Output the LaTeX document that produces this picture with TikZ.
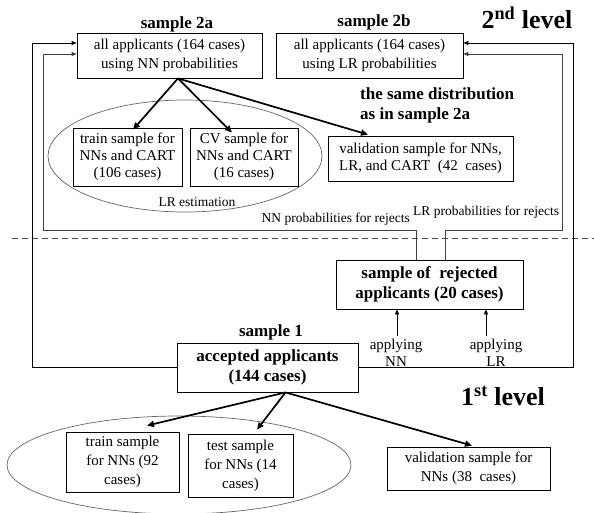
\documentclass[tikz,border=0pt]{standalone}
\usepackage{fontspec}
\setmainfont{Liberation Serif}
\usetikzlibrary{arrows.meta,calc}
\newcommand\fsNorm{\fontsize{15}{17}\selectfont}
\newcommand\fsWide{\fontsize{15}{19}\selectfont}
\newcommand\fsLab{\fontsize{13.5}{15}\selectfont}
\newcommand\fsBold{\fontsize{17}{20}\selectfont\bfseries}
\newcommand\fsHuge{\fontsize{26}{28}\selectfont\bfseries}
\begin{document}
\begin{tikzpicture}[x=1pt,y=-1pt,
  box/.style={draw=black, line width=0.8pt, inner sep=0pt, align=center, font=\fsNorm},
  bbox/.style={box, font=\fsBold, fontsize=16.5},
  plain/.style={inner sep=0pt, align=center, font=\fsNorm},
  lbl/.style={inner sep=0pt, font=\fsLab},
  ttl/.style={inner sep=0pt, font=\fsBold},
  bigarrow/.style={line width=1.7pt, -{Triangle[length=7pt,width=6pt]}},
  smallarrow/.style={line width=0.8pt, -{Triangle[length=5pt,width=4pt]}},
  loopline/.style={line width=0.8pt, draw=black!75, -{Triangle[length=5pt,width=4pt]}},
  oval/.style={draw=black!60, line width=0.7pt},
  fontsize/.style={}]
\useasboundingbox (0,0) rectangle (594,512);

% ellipses
\draw[oval] (185,156) ellipse [x radius=137pt, y radius=56pt];
\draw[oval] (179,465) ellipse [x radius=172pt, y radius=49pt];

% dashed separator
\draw[black!70, line width=0.8pt, dash pattern=on 6pt off 4pt] (12,238) -- (594,238);

% titles
\node[ttl] (t2a) at (177,24) {sample 2a};
\node[ttl] (t2b) at (374,22) {sample 2b};
\node[ttl] (t1) at (271,332) {sample 1};
\node[inner sep=0pt, font=\fsHuge] (lev2) at (527,18) {2\textsuperscript{nd} level};
\node[inner sep=0pt, font=\fsHuge] (lev1) at (503,396) {1\textsuperscript{st} level};
\node[inner sep=0pt, font=\fsBold, align=left, anchor=west] (same) at (360,105)
  {the same distribution\\as in sample 2a};

% second level boxes
\node[box, font=\fsWide, minimum width=185pt, minimum height=45pt] (box2a) at (169.5,55.5)
  {all applicants (164 cases)\\using NN probabilities};
\node[box, font=\fsWide, minimum width=187pt, minimum height=45pt] (box2b) at (369.5,55.5)
  {all applicants (164 cases)\\using LR probabilities};
\node[box, minimum width=109pt, minimum height=58pt] (train2) at (127.5,157)
  {train sample for\\NNs and CART\\(106 cases)};
\node[box, minimum width=108pt, minimum height=58pt] (cv2) at (244,157)
  {CV sample for\\NNs and CART\\(16 cases)};
\node[box, minimum width=185pt, minimum height=45pt] (val2) at (420.5,158.5)
  {validation sample for NNs,\\LR, and CART\ \ (42\ \ cases)};
\node[lbl] (lrest) at (197,202) {LR estimation};

% rejected / accepted
\node[box, font=\fsBold, minimum width=187pt, minimum height=49pt] (rej) at (429.5,284.5)
  {sample of\ \ rejected\\applicants (20 cases)};
\node[box, font=\fsBold, minimum width=181pt, minimum height=49pt] (acc) at (267.5,367.5)
  {accepted applicants\\(144 cases)};
\node[plain] (apNN) at (396,353) {applying\\NN};
\node[plain] (apLR) at (496,353) {applying\\LR};

% first level boxes
\node[box, font=\fsWide, minimum width=113pt, minimum height=60pt] (train1) at (122.5,462)
  {train sample\\for NNs (92\\cases)};
\node[box, font=\fsWide, minimum width=105pt, minimum height=63pt] (test1) at (240.5,465.5)
  {test sample\\for NNs (14\\cases)};
\node[box, font=\fsWide, minimum width=163pt, minimum height=43pt] (val1) at (468.5,468.5)
  {validation sample for\\NNs (38\ \ cases)};

% probability labels
\node[lbl, anchor=east] (nnlab) at (410,219) {NN probabilities for rejects};
\node[lbl, anchor=west] (lrlab) at (413,212) {LR probabilities for rejects};

% split arrows, second level
\coordinate (s2) at ([xshift=8.5pt]box2a.south);
\draw[bigarrow] (s2) -- ([xshift=5.5pt,yshift=-2pt]train2.north);
\draw[bigarrow] (s2) -- ([xshift=-12pt,yshift=-5pt]cv2.north);
\draw[bigarrow] (s2) -- ([xshift=-52.5pt,yshift=1pt]val2.north);

% split arrows, first level
\coordinate (s1) at ([xshift=18pt]acc.south);
\draw[bigarrow] (s1) -- ([xshift=24.5pt,yshift=6pt]train1.north);
\draw[bigarrow] (s1) -- ([xshift=16.5pt,yshift=4pt]test1.north);
\draw[bigarrow] (s1) -- ([xshift=3.5pt,yshift=1pt]val1.north);

% applying arrows
\coordinate (nntail) at ([xshift=1pt,yshift=3pt]apNN.north);
\coordinate (lrtail) at ([xshift=-10pt,yshift=3pt]apLR.north);
\draw[smallarrow] (nntail) -- (nntail |- rej.south);
\draw[smallarrow] (lrtail) -- (lrtail |- rej.south);

% loops
\coordinate (in2a) at ([yshift=1.5pt]box2a.west);
\coordinate (out2a) at ([yshift=12.5pt]box2a.west);
\coordinate (in2b) at ([yshift=1.5pt]box2b.east);
\coordinate (out2b) at ([yshift=12.5pt]box2b.east);
\coordinate (nnup) at ([xshift=-13.5pt]rej.north);
\coordinate (lrup) at ([xshift=15.5pt]rej.north);
\draw[loopline] (nnup) |- (43,230) |- (in2a);
\draw[loopline] (lrup) |- (562,230) |- (in2b);
\draw[loopline, draw=black] (acc.west) -- (32,367.5) |- (out2a);
\draw[loopline, draw=black] (acc.east) -- (573,367.5) |- (out2b);
\end{tikzpicture}
\end{document}
